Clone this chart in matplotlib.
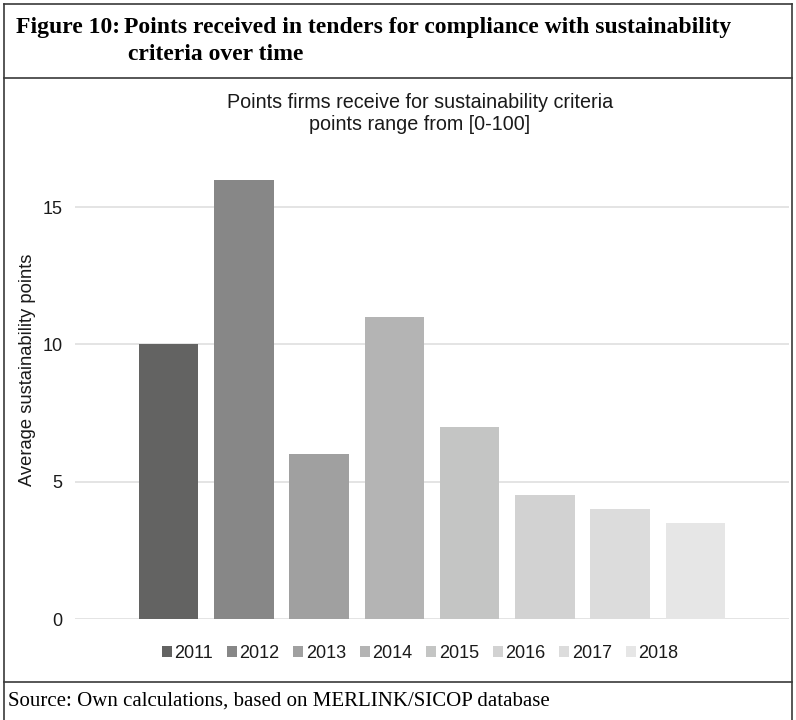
import matplotlib
matplotlib.use('Agg')
import matplotlib.pyplot as plt
from matplotlib.patches import Patch
from matplotlib.lines import Line2D

# data
years = ['2011', '2012', '2013', '2014', '2015', '2016', '2017', '2018']
avg_points = [10, 16, 6, 11, 7, 4.5, 4, 3.5]
bar_colors = ['#636362', '#878787', '#a0a0a0', '#b4b4b4',
              '#c4c5c4', '#d2d2d2', '#dcdcdc', '#e6e6e6']
yticks = [0, 5, 10, 15]

W, H = 796, 720
fig = plt.figure(figsize=(W / 100, H / 100), dpi=100)

sans = ['Liberation Sans', 'DejaVu Sans']
serif = ['Liberation Serif', 'DejaVu Serif']
txt_color = '#1a1a1a'


def fx(px):
    return px / W


def fy(py):
    return 1 - py / H


# outer frame and dividers
frame_kw = dict(color='#3a3a3a', lw=1.2, transform=fig.transFigure)
fig.add_artist(Line2D([fx(4), fx(4)], [fy(4), fy(720)], **frame_kw))
fig.add_artist(Line2D([fx(792), fx(792)], [fy(4), fy(720)], **frame_kw))
fig.add_artist(Line2D([fx(4), fx(792)], [fy(4), fy(4)], **frame_kw))
fig.add_artist(Line2D([fx(4), fx(792)], [fy(78), fy(78)], **frame_kw))
fig.add_artist(Line2D([fx(4), fx(792)], [fy(682), fy(682)], **frame_kw))

# figure heading
head_kw = dict(family=serif, weight='bold', fontsize=17, va='baseline',
               ha='left', color='black')
fig.text(fx(16), fy(33), 'Figure 10:', **head_kw)
fig.text(fx(124), fy(33), 'Points received in tenders for compliance with sustainability',
         **head_kw)
fig.text(fx(128), fy(60), 'criteria over time', **head_kw)

# source line
fig.text(fx(8), fy(701), 'Source: Own calculations, based on MERLINK/SICOP database',
         family=serif, fontsize=15, va='center', ha='left', color='black')

# chart titles
fig.text(fx(420), fy(102), 'Points firms receive for sustainability criteria',
         family=sans, fontsize=14.2, ha='center', va='center', color=txt_color)
fig.text(fx(420), fy(124), 'points range from [0-100]',
         family=sans, fontsize=14.2, ha='center', va='center', color=txt_color)

# bars
ax = fig.add_axes([fx(75), fy(619), (789 - 75) / W, (619 - 170) / H])
x = list(range(len(years)))
ax.bar(x, avg_points, width=0.79, color=bar_colors, zorder=3)
ax.set_xlim(-1.245, 8.245)
ax.set_ylim(0, 16.35)
ax.set_yticks(yticks)
ax.set_yticklabels([str(t) for t in yticks], family=sans, fontsize=13, color=txt_color)
ax.tick_params(axis='y', length=0, pad=9)
ax.set_xticks([])
ax.grid(axis='y', color='#e4e4e4', lw=1.4, zorder=0)
for s in ax.spines.values():
    s.set_visible(False)

fig.text(fx(28), fy(370), 'Average sustainability points', rotation=90,
         family=sans, fontsize=13.2, ha='center', va='center', color=txt_color)

handles = [Patch(facecolor=c, edgecolor='none') for c in bar_colors]
fig.legend(handles, years, loc='center', bbox_to_anchor=(fx(420), fy(653)),
           ncol=len(years), frameon=False, handlelength=0.56, handleheight=0.56,
           handletextpad=0.15, columnspacing=0.75, borderpad=0,
           prop={'family': sans, 'size': 13}, labelcolor=txt_color)

fig.savefig('out.png', dpi=100)
